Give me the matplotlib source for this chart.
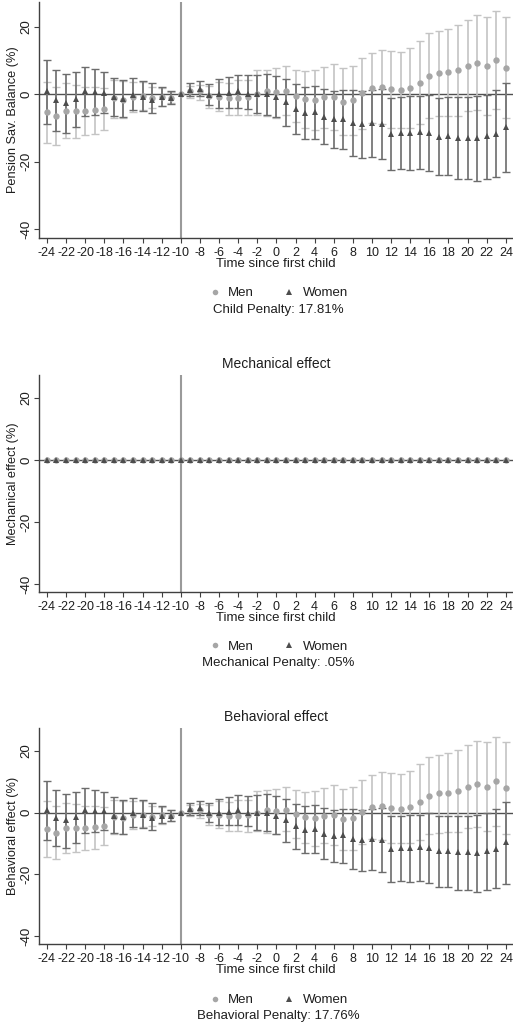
import numpy as np
import matplotlib.pyplot as plt
from matplotlib.lines import Line2D

plt.rcParams['font.family'] = ['Liberation Sans', 'DejaVu Sans']
plt.rcParams['axes.unicode_minus'] = False

# event time (first child), -10 is the reference period
t = list(range(-24, 25))
nan = np.nan

# Pension savings balance (%), total effect
men_est = [-5.4, -6.6, -4.9, -5.1, -4.9, -4.7, -4.4, -1.3, -1.7, -0.9, -0.7, -1.3, -0.9, -1.1,
           0.0, 0.8, 0.8, -0.7, -0.9, -1.2, -1.2, -0.9, 0.0, 0.8, 0.6, 0.8, -0.5, -1.5, -1.9,
           -1.0, -0.9, -2.2, -1.7, 0.2, 1.8, 2.1, 1.5, 1.1, 1.8, 3.4, 5.4, 6.2, 6.4, 7.0, 8.3,
           9.3, 8.3, 10.1, 7.8]
men_hi = [3.7, 2.1, 3.2, 2.8, 2.1, 2.1, 1.8, 4.2, 3.9, 3.7, 3.7, 2.1, 1.9, 0.7,
          nan, 2.5, 2.7, 2.3, 3.7, 3.4, 4.2, 4.2, 7.0, 7.2, 7.6, 8.3, 7.2, 6.7, 7.0,
          8.1, 8.8, 7.6, 8.4, 10.6, 12.3, 13.0, 12.8, 12.5, 13.5, 15.8, 18.0, 18.7, 19.4, 20.4, 21.9,
          23.3, 22.8, 24.5, 22.8]
men_lo = [-14.4, -15.1, -13.0, -12.9, -12.0, -11.8, -10.5, -7.1, -7.0, -5.4, -4.6, -4.2, -3.6, -2.6,
          nan, -1.2, -1.7, -4.1, -5.1, -6.1, -6.1, -6.3, -6.1, -6.6, -7.0, -6.1, -8.3, -10.0, -10.7,
          -10.0, -10.5, -12.0, -12.0, -10.3, -8.7, -8.8, -10.0, -10.0, -9.9, -8.8, -7.0, -6.6, -6.4, -6.4, -5.1,
          -4.6, -6.1, -4.4, -7.1]
women_est = [0.8, -1.7, -2.5, -1.5, 0.8, 0.5, 0.4, -1.0, -1.4, -0.2, -0.9, -1.9, -1.0, -1.2,
             0.0, 1.2, 1.5, -0.2, 0.0, 0.3, 0.8, 0.0, 0.0, 0.0, -1.0, -2.4, -4.4, -5.6, -5.4,
             -6.8, -7.5, -7.4, -8.5, -9.0, -8.7, -9.0, -11.8, -11.5, -11.5, -11.2, -11.5, -12.6, -12.3, -12.9, -12.9,
             -13.1, -12.5, -11.7, -9.7]
women_hi = [10.1, 7.2, 6.0, 6.5, 7.9, 7.3, 6.6, 4.9, 4.2, 4.8, 4.0, 3.2, 2.1, 0.9,
            nan, 3.2, 3.9, 3.0, 4.5, 5.0, 5.7, 5.5, 5.7, 6.0, 5.4, 4.4, 2.9, 2.1, 2.5,
            1.5, 0.8, 1.1, 1.1, 0.8, 1.3, 1.5, -1.2, -1.0, -0.7, -0.7, -0.2, -1.2, -1.0, -1.0, -1.0,
            -0.7, -0.2, 1.1, 3.4]
women_lo = [-9.0, -11.0, -11.5, -9.8, -6.5, -6.3, -5.6, -6.6, -6.8, -4.6, -4.9, -5.6, -3.4, -2.8,
            nan, -0.7, -0.7, -3.1, -4.1, -4.1, -4.1, -4.3, -5.6, -6.1, -6.8, -9.5, -11.8, -13.2, -13.2,
            -14.9, -15.9, -16.2, -18.3, -19.0, -18.5, -19.3, -22.5, -22.3, -22.5, -22.3, -22.7, -24.0, -24.0, -25.0, -25.2,
            -25.7, -25.2, -24.4, -23.0]

# Mechanical effect: flat at zero for both
mech_men = [0.0, 0.0, 0.0, 0.0, 0.0, 0.0, 0.0, 0.0, 0.0, 0.0, 0.0, 0.0, 0.0, 0.0,
            0.0, 0.0, 0.0, 0.0, 0.0, 0.0, 0.0, 0.0, 0.0, 0.0, 0.0, 0.0, 0.0, 0.0, 0.0,
            0.0, 0.0, 0.0, 0.0, 0.0, 0.0, 0.0, 0.0, 0.0, 0.0, 0.0, 0.0, 0.0, 0.0, 0.0, 0.0,
            0.0, 0.0, 0.0, 0.0]
mech_women = [0.0, 0.0, 0.0, 0.0, 0.0, 0.0, 0.0, 0.0, 0.0, 0.0, 0.0, 0.0, 0.0, 0.0,
              0.0, 0.0, 0.0, 0.0, 0.0, 0.0, 0.0, 0.0, 0.0, 0.0, 0.0, 0.0, 0.0, 0.0, 0.0,
              0.0, 0.0, 0.0, 0.0, 0.0, 0.0, 0.0, 0.0, 0.0, 0.0, 0.0, 0.0, 0.0, 0.0, 0.0, 0.0,
              0.0, 0.0, 0.0, 0.0]

# Behavioral effect: visually the same as the total (mechanical ~ 0)
beh_men_est, beh_men_lo, beh_men_hi = men_est, men_lo, men_hi
beh_women_est, beh_women_lo, beh_women_hi = women_est, women_lo, women_hi

xticks = list(range(-24, 25, 2))
yticks = [-40, -20, 0, 20]

C_MEN_CI = '#c4c4c4'
C_MEN = '#a6a6a6'
C_WOM_CI = '#6c6c6c'
C_WOM = '#4d4d4d'
C_AX = '#404040'
C_TXT = '#1e1e1e'

W, H = 513, 1027
fig = plt.figure(figsize=(W / 100, H / 100), dpi=100)


def fy(py):
    return 1 - py / H


def panel(top, bottom, ylabel, men, women, title=None):
    ax = fig.add_axes([39 / W, fy(bottom), 474 / W, (bottom - top) / H])
    ax.axvline(-10, color='#9a9a9a', lw=1.5, zorder=1)
    ax.axhline(0, color='#505050', lw=1.0, zorder=1)
    if men[1] is not None:
        m_est, m_lo, m_hi = [np.array(a, dtype=float) for a in men]
        w_est, w_lo, w_hi = [np.array(a, dtype=float) for a in women]
        ax.errorbar(t, m_est, yerr=[m_est - m_lo, m_hi - m_est], fmt='none',
                    ecolor=C_MEN_CI, elinewidth=1.2, capsize=2.6, capthick=1.0, zorder=2)
        ax.errorbar(t, w_est, yerr=[w_est - w_lo, w_hi - w_est], fmt='none',
                    ecolor=C_WOM_CI, elinewidth=1.2, capsize=2.6, capthick=1.0, zorder=3)
    else:
        m_est, w_est = men[0], women[0]
    ax.plot(t, m_est, 'o', color=C_MEN, ms=4.6, mew=0, zorder=4)
    ax.plot(t, w_est, '^', color=C_WOM, ms=4.9, mew=0, zorder=5)

    ax.set_xlim(-24.83, 24.75)
    ax.set_ylim(-42.6, 27.4)
    ax.set_xticks(xticks)
    ax.set_yticks(yticks)
    for s in ['top', 'right']:
        ax.spines[s].set_visible(False)
    for s in ['left', 'bottom']:
        ax.spines[s].set_color(C_AX)
        ax.spines[s].set_linewidth(1.0)
    ax.tick_params(axis='both', direction='out', length=3.6, width=0.8, color=C_AX,
                   labelsize=9.0, labelcolor=C_TXT)
    ax.tick_params(axis='x', pad=3)
    ax.tick_params(axis='y', labelsize=9.6, labelrotation=90, pad=1)
    plt.setp(ax.get_yticklabels(), va='center')
    ax.set_ylabel(ylabel, fontsize=9.2, color=C_TXT, labelpad=1)
    ax.set_xlabel('Time since first child', fontsize=9.5, color=C_TXT, labelpad=-1)
    if title:
        ax.set_title(title, fontsize=10, color=C_TXT, pad=5)
    return ax


panel(1.5, 238, 'Pension Sav. Balance (%)', (men_est, men_lo, men_hi),
      (women_est, women_lo, women_hi))
panel(375, 592, 'Mechanical effect (%)', (mech_men, None, None),
      (mech_women, None, None), title='Mechanical effect')
panel(728, 944, 'Behavioral effect (%)', (beh_men_est, beh_men_lo, beh_men_hi),
      (beh_women_est, beh_women_lo, beh_women_hi), title='Behavioral effect')

handles = [Line2D([], [], ls='none', marker='o', color=C_MEN, ms=4, mew=0),
           Line2D([], [], ls='none', marker='^', color=C_WOM, ms=4.3, mew=0)]
notes = [(293, 310, 'Child Penalty: 17.81%'),
         (647, 663, 'Mechanical Penalty: .05%'),
         (1000, 1016, 'Behavioral Penalty: 17.76%')]
for ly, py, txt in notes:
    fig.legend(handles, ['Men', 'Women'], loc='center', bbox_to_anchor=(278 / W, fy(ly)),
               ncol=2, frameon=False, fontsize=9.5, handlelength=1.0, handletextpad=0.5,
               columnspacing=2.2, labelcolor=C_TXT, borderpad=0, borderaxespad=0)
    fig.text(278 / W, fy(py), txt, ha='center', va='center', fontsize=9.5, color=C_TXT)

fig.savefig('out.png', dpi=100)
